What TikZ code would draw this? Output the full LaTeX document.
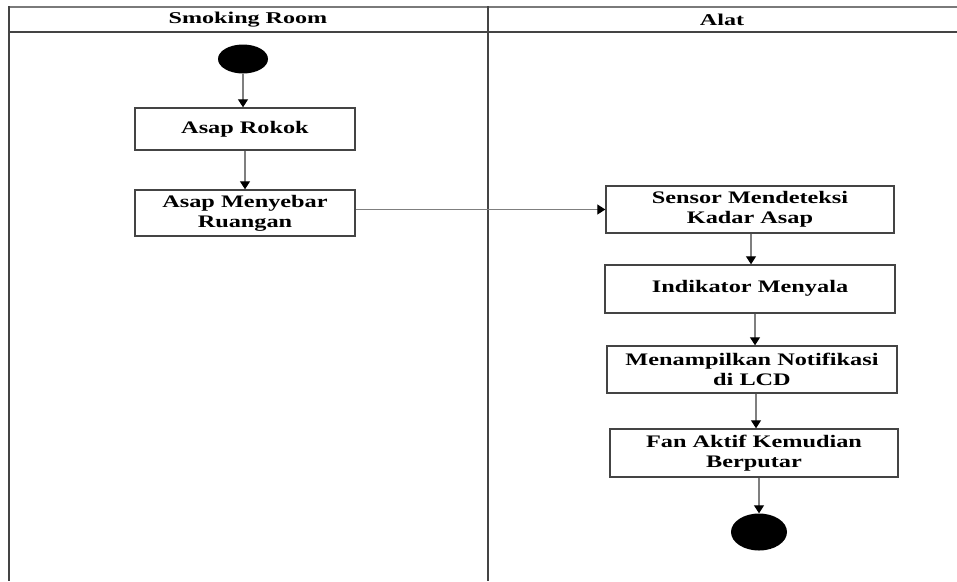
\documentclass[tikz,border=0pt]{standalone}
\usepackage{fontspec}
\usetikzlibrary{shapes.geometric,arrows.meta}
\newfontfamily\boxfont[FakeStretch=1.38,BoldFont={Liberation Serif Bold}]{Liberation Serif}
\newfontfamily\hdrfont[FakeStretch=1.46,BoldFont={Liberation Serif Bold}]{Liberation Serif}
\definecolor{framegray}{HTML}{444444}
\definecolor{toplinegray}{HTML}{7A7A7A}
\definecolor{shaftgray}{HTML}{7F7F7F}
\tikzset{
  activity/.style={draw=framegray, line width=1.4pt, fill=white, inner sep=0pt,
    align=center, font=\boxfont\bfseries\fontsize{17.6}{20}\selectfont},
  dot/.style={ellipse, fill=black, draw=none, inner sep=0pt},
  arr/.style={draw=shaftgray, line width=1.1pt, -{Triangle[length=8pt,width=10pt,fill=black,color=black]}},
  lane/.style={draw=framegray, line width=1.4pt},
  hdr/.style={font=\hdrfont\bfseries\fontsize{16.5}{18}\selectfont, inner sep=0pt}
}
\begin{document}
\begin{tikzpicture}[x=1pt,y=-1pt]
\useasboundingbox (0,0) rectangle (957,581);
% table
\draw[draw=toplinegray, line width=1.3pt] (8,7) -- (957,7);
\draw[lane] (8,32) -- (957,32);
\draw[lane] (9,6.4) -- (9,581);
\draw[lane] (488,6.4) -- (488,581);
\node[hdr] (hdrA) at (248,19.5) {Smoking Room};
\node[hdr] (hdrB) at (722,19.5) {Alat};
% nodes
\node[dot, minimum width=50pt, minimum height=29pt] (start) at (243,59) {};
\node[activity, minimum width=220pt, minimum height=42pt] (rokok) at (245,129) {Asap Rokok};
\node[activity, minimum width=220pt, minimum height=46pt] (menyebar) at (245,213) {Asap Menyebar\\Ruangan};
\node[activity, minimum width=288pt, minimum height=47pt] (sensor) at (750,209.5) {Sensor Mendeteksi\\Kadar Asap};
\node[activity, minimum width=290pt, minimum height=48pt] (indik) at (750,289) {\raisebox{6pt}{Indikator Menyala}};
\node[activity, minimum width=290pt, minimum height=47pt] (lcd) at (752,369.5) {Menampilkan Notifikasi\\di LCD};
\node[activity, minimum width=288pt, minimum height=48pt] (fan) at (754,453) {Fan Aktif Kemudian\\Berputar};
\node[dot, minimum width=56pt, minimum height=37pt] (end) at (759,532) {};
% connectors
\draw[arr] (start.south) -- (start.south |- rokok.north);
\draw[arr] (rokok.south) -- (menyebar.north);
\draw[arr] (menyebar.east |- sensor.west) -- (sensor.west);
\draw[arr] ([xshift=1pt]sensor.south) -- ([xshift=1pt]sensor.south |- indik.north);
\draw[arr] ([xshift=5pt]indik.south) -- ([xshift=5pt]indik.south |- lcd.north);
\draw[arr] ([xshift=4pt]lcd.south) -- ([xshift=4pt]lcd.south |- fan.north);
\draw[arr] (end.north |- fan.south) -- (end.north);
\end{tikzpicture}
\end{document}
